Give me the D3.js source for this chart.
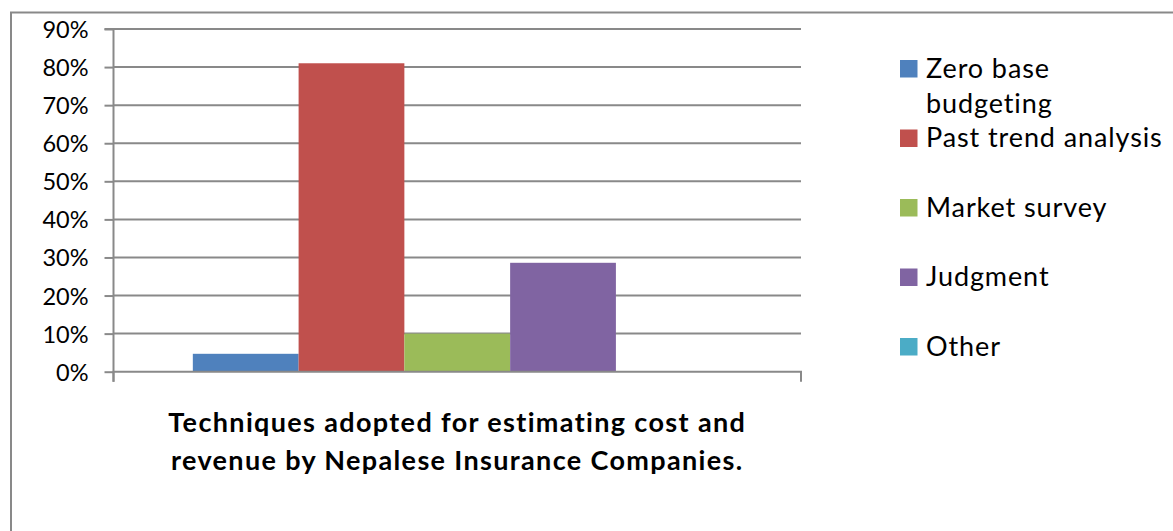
<!DOCTYPE html>
<html><head><meta charset="utf-8">
<script src="https://cdn.jsdelivr.net/npm/d3@7"></script>
<style>html,body{margin:0;padding:0;background:#fff;overflow:hidden}</style>
</head><body>
<svg id="chart" width="1173" height="531"></svg>
<script>
const seriesNames = ["Zero base budgeting", "Past trend analysis", "Market survey", "Judgment", "Other"];
const legendLabels = [["Zero base", "budgeting"], ["Past trend analysis"], ["Market survey"], ["Judgment"], ["Other"]];
const seriesValues = [0.047, 0.81, 0.10, 0.286, 0];
const seriesColors = ["#4F81BD", "#C0504D", "#9BBB59", "#8064A2", "#4BACC6"];
const yTicks = [0, 0.1, 0.2, 0.3, 0.4, 0.5, 0.6, 0.7, 0.8, 0.9];
const titleLines = ["Techniques adopted for estimating cost and", "revenue by Nepalese Insurance Companies."];

const svg = d3.select("#chart");
const font = "Lato, 'Open Sans', sans-serif";
const grid = "#898989";

// outer frame
svg.append("rect").attr("x", 11).attr("y", 12.5).attr("width", 1175).attr("height", 540)
  .attr("fill", "#fff").attr("stroke", grid).attr("stroke-width", 2);

const plot = {left: 113.5, right: 801, top: 29, bottom: 371.7};
const y = d3.scaleLinear().domain([0, 0.9]).range([plot.bottom, plot.top]);
const x = d3.scaleBand().domain(seriesNames).range([plot.left, plot.right]).paddingInner(0).paddingOuter(0.75);

// gridlines
svg.append("g").selectAll("line").data(yTicks.filter(d => d > 0)).join("line")
  .attr("x1", plot.left).attr("x2", plot.right)
  .attr("y1", d => y(d)).attr("y2", d => y(d))
  .attr("stroke", grid).attr("stroke-width", 2);

// y axis
const yAxis = d3.axisLeft(y).tickValues(yTicks).tickFormat(d3.format(".0%")).tickSize(9).tickPadding(16);
const ya = svg.append("g").attr("transform", `translate(${plot.left},0)`).call(yAxis);
ya.select(".domain").attr("stroke", grid).attr("stroke-width", 2).attr("d", `M-9,${plot.top}H0V${plot.bottom + 10}`);
ya.selectAll(".tick line").attr("stroke", grid).attr("stroke-width", 2);
ya.selectAll(".tick text").attr("font-family", font).attr("font-size", 23.5).attr("fill", "#000").attr("dy", "0.36em");

// bars
svg.append("g").selectAll("rect").data(seriesNames).join("rect")
  .attr("x", d => x(d)).attr("width", x.bandwidth())
  .attr("y", (d, i) => y(seriesValues[i]))
  .attr("height", (d, i) => y(0) - y(seriesValues[i]))
  .attr("fill", (d, i) => seriesColors[i]);

// x axis
const xCat = d3.scaleBand().domain(["c"]).range([plot.left, plot.right]);
const xAxis = d3.axisBottom(xCat).tickSize(0).tickFormat("");
const xa = svg.append("g").attr("transform", `translate(0,${plot.bottom})`).call(xAxis);
xa.select(".domain").attr("stroke", grid).attr("stroke-width", 2)
  .attr("d", `M${plot.left},10V0H${plot.right}V10`);

// legend
const lg = svg.append("g");
const legY = [60, 129.5, 199, 268.5, 338];
seriesNames.forEach((s, i) => {
  const g = lg.append("g").attr("transform", `translate(900,${legY[i]})`);
  g.append("rect").attr("width", 17.5).attr("height", 17.5).attr("fill", seriesColors[i]);
  const t = g.append("text").attr("x", 26).attr("y", 17.5).attr("font-family", font)
    .attr("font-size", 27).attr("letter-spacing", 0.9).attr("fill", "#000");
  legendLabels[i].forEach((ln, j) => {
    t.append("tspan").attr("x", 26).attr("dy", j === 0 ? 0 : 35).text(ln);
  });
});

// title
const tt = svg.append("text").attr("font-family", font).attr("font-weight", "bold")
  .attr("font-size", 27).attr("letter-spacing", 1.35).attr("text-anchor", "middle").attr("fill", "#000");
titleLines.forEach((ln, j) => {
  tt.append("tspan").attr("x", (plot.left + plot.right) / 2).attr("y", 432 + j * 38).text(ln);
});
</script>
</body></html>
